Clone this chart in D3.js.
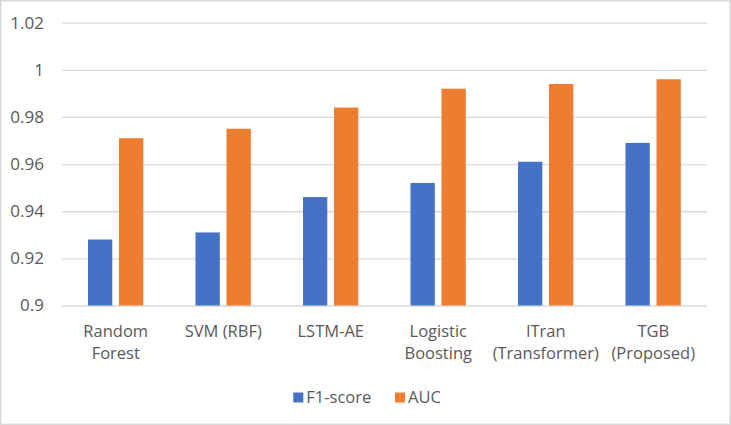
<!DOCTYPE html>
<html>
<head>
<meta charset="utf-8">
<script src="https://cdn.jsdelivr.net/npm/d3@7"></script>
<style>
    body { margin: 0; background: #fff; }
    svg text { font-family: "Open Sans", "Noto Sans", sans-serif; fill: #595959; }
</style>
</head>
<body>
<svg id="chart" width="731" height="425"></svg>
<script>
// chart values
const categories = ["Random\nForest", "SVM (RBF)", "LSTM-AE", "Logistic\nBoosting", "ITran\n(Transformer)", "TGB\n(Proposed)"];
const seriesNames = ["F1-score", "AUC"];
const f1Scores = [0.928, 0.931, 0.946, 0.952, 0.961, 0.969];
const aucScores = [0.971, 0.975, 0.984, 0.992, 0.994, 0.996];
const yTicks = [0.9, 0.92, 0.94, 0.96, 0.98, 1, 1.02];
const seriesColors = ["#4472C4", "#ED7D31"];

const svg = d3.select("#chart");
const width = 731, height = 425;
const plot = {left: 62, right: 707, top: 22.7, bottom: 305.5};

svg.append("rect")
    .attr("x", 0.75).attr("y", 0.75)
    .attr("width", width - 1.5).attr("height", height - 1.5)
    .attr("fill", "#fff")
    .attr("stroke", "#D9D9D9")
    .attr("stroke-width", 1.5);

let rows = categories.map((c, i) => ({cat: c, values: [f1Scores[i], aucScores[i]]}));

let x = d3.scaleBand().domain(categories).range([plot.left, plot.right]);
let xInner = d3.scaleBand().domain(seriesNames).range([26, 81.3]).paddingInner(0.216);
let y = d3.scaleLinear().domain([0.9, 1.02]).range([plot.bottom, plot.top]);

// gridlines + y labels
let yAxis = d3.axisLeft(y)
    .tickValues(yTicks)
    .tickSize(-(plot.right - plot.left))
    .tickPadding(18)
    .tickFormat(d => d3.format("")(+d.toFixed(2)));

let yAxisElem = svg.append("g")
    .attr("transform", "translate(" + plot.left + ",0)")
    .call(yAxis);
yAxisElem.select(".domain").remove();
yAxisElem.selectAll(".tick line")
    .attr("stroke", "#D9D9D9")
    .attr("stroke-width", 1.3);
yAxisElem.selectAll(".tick text")
    .style("font-size", "17px")
    .attr("fill", "#595959");

// bars
let groups = svg.append("g").selectAll("g")
    .data(rows)
    .enter().append("g")
    .attr("transform", d => "translate(" + x(d.cat) + ",0)");

groups.selectAll("rect")
    .data(d => d.values.map((v, j) => ({name: seriesNames[j], value: v, idx: j})))
    .enter().append("rect")
    .attr("x", d => xInner(d.name))
    .attr("width", xInner.bandwidth())
    .attr("y", d => y(d.value))
    .attr("height", d => y(0.9) - y(d.value))
    .attr("fill", d => seriesColors[d.idx]);

// category labels
let xLabels = svg.append("g").selectAll("text")
    .data(categories)
    .enter().append("text")
    .attr("text-anchor", "middle")
    .style("font-size", "16.5px")
    .attr("transform", d => "translate(" + (x(d) + x.bandwidth() / 2) + "," + 337 + ")");

xLabels.selectAll("tspan")
    .data(d => d.split("\n"))
    .enter().append("tspan")
    .attr("x", 0)
    .attr("dy", (d, i) => i === 0 ? 0 : 22)
    .text(d => d);

// legend
let legendItems = [
    {name: seriesNames[0], color: seriesColors[0], x: 293.3},
    {name: seriesNames[1], color: seriesColors[1], x: 395}
];
let legend = svg.append("g").selectAll("g")
    .data(legendItems)
    .enter().append("g")
    .attr("transform", d => "translate(" + d.x + ",0)");
legend.append("rect")
    .attr("y", 392.5)
    .attr("width", 10).attr("height", 10)
    .attr("fill", d => d.color);
legend.append("text")
    .attr("x", 13)
    .attr("y", 403)
    .style("font-size", "16.5px")
    .text(d => d.name);
</script>
</body>
</html>
